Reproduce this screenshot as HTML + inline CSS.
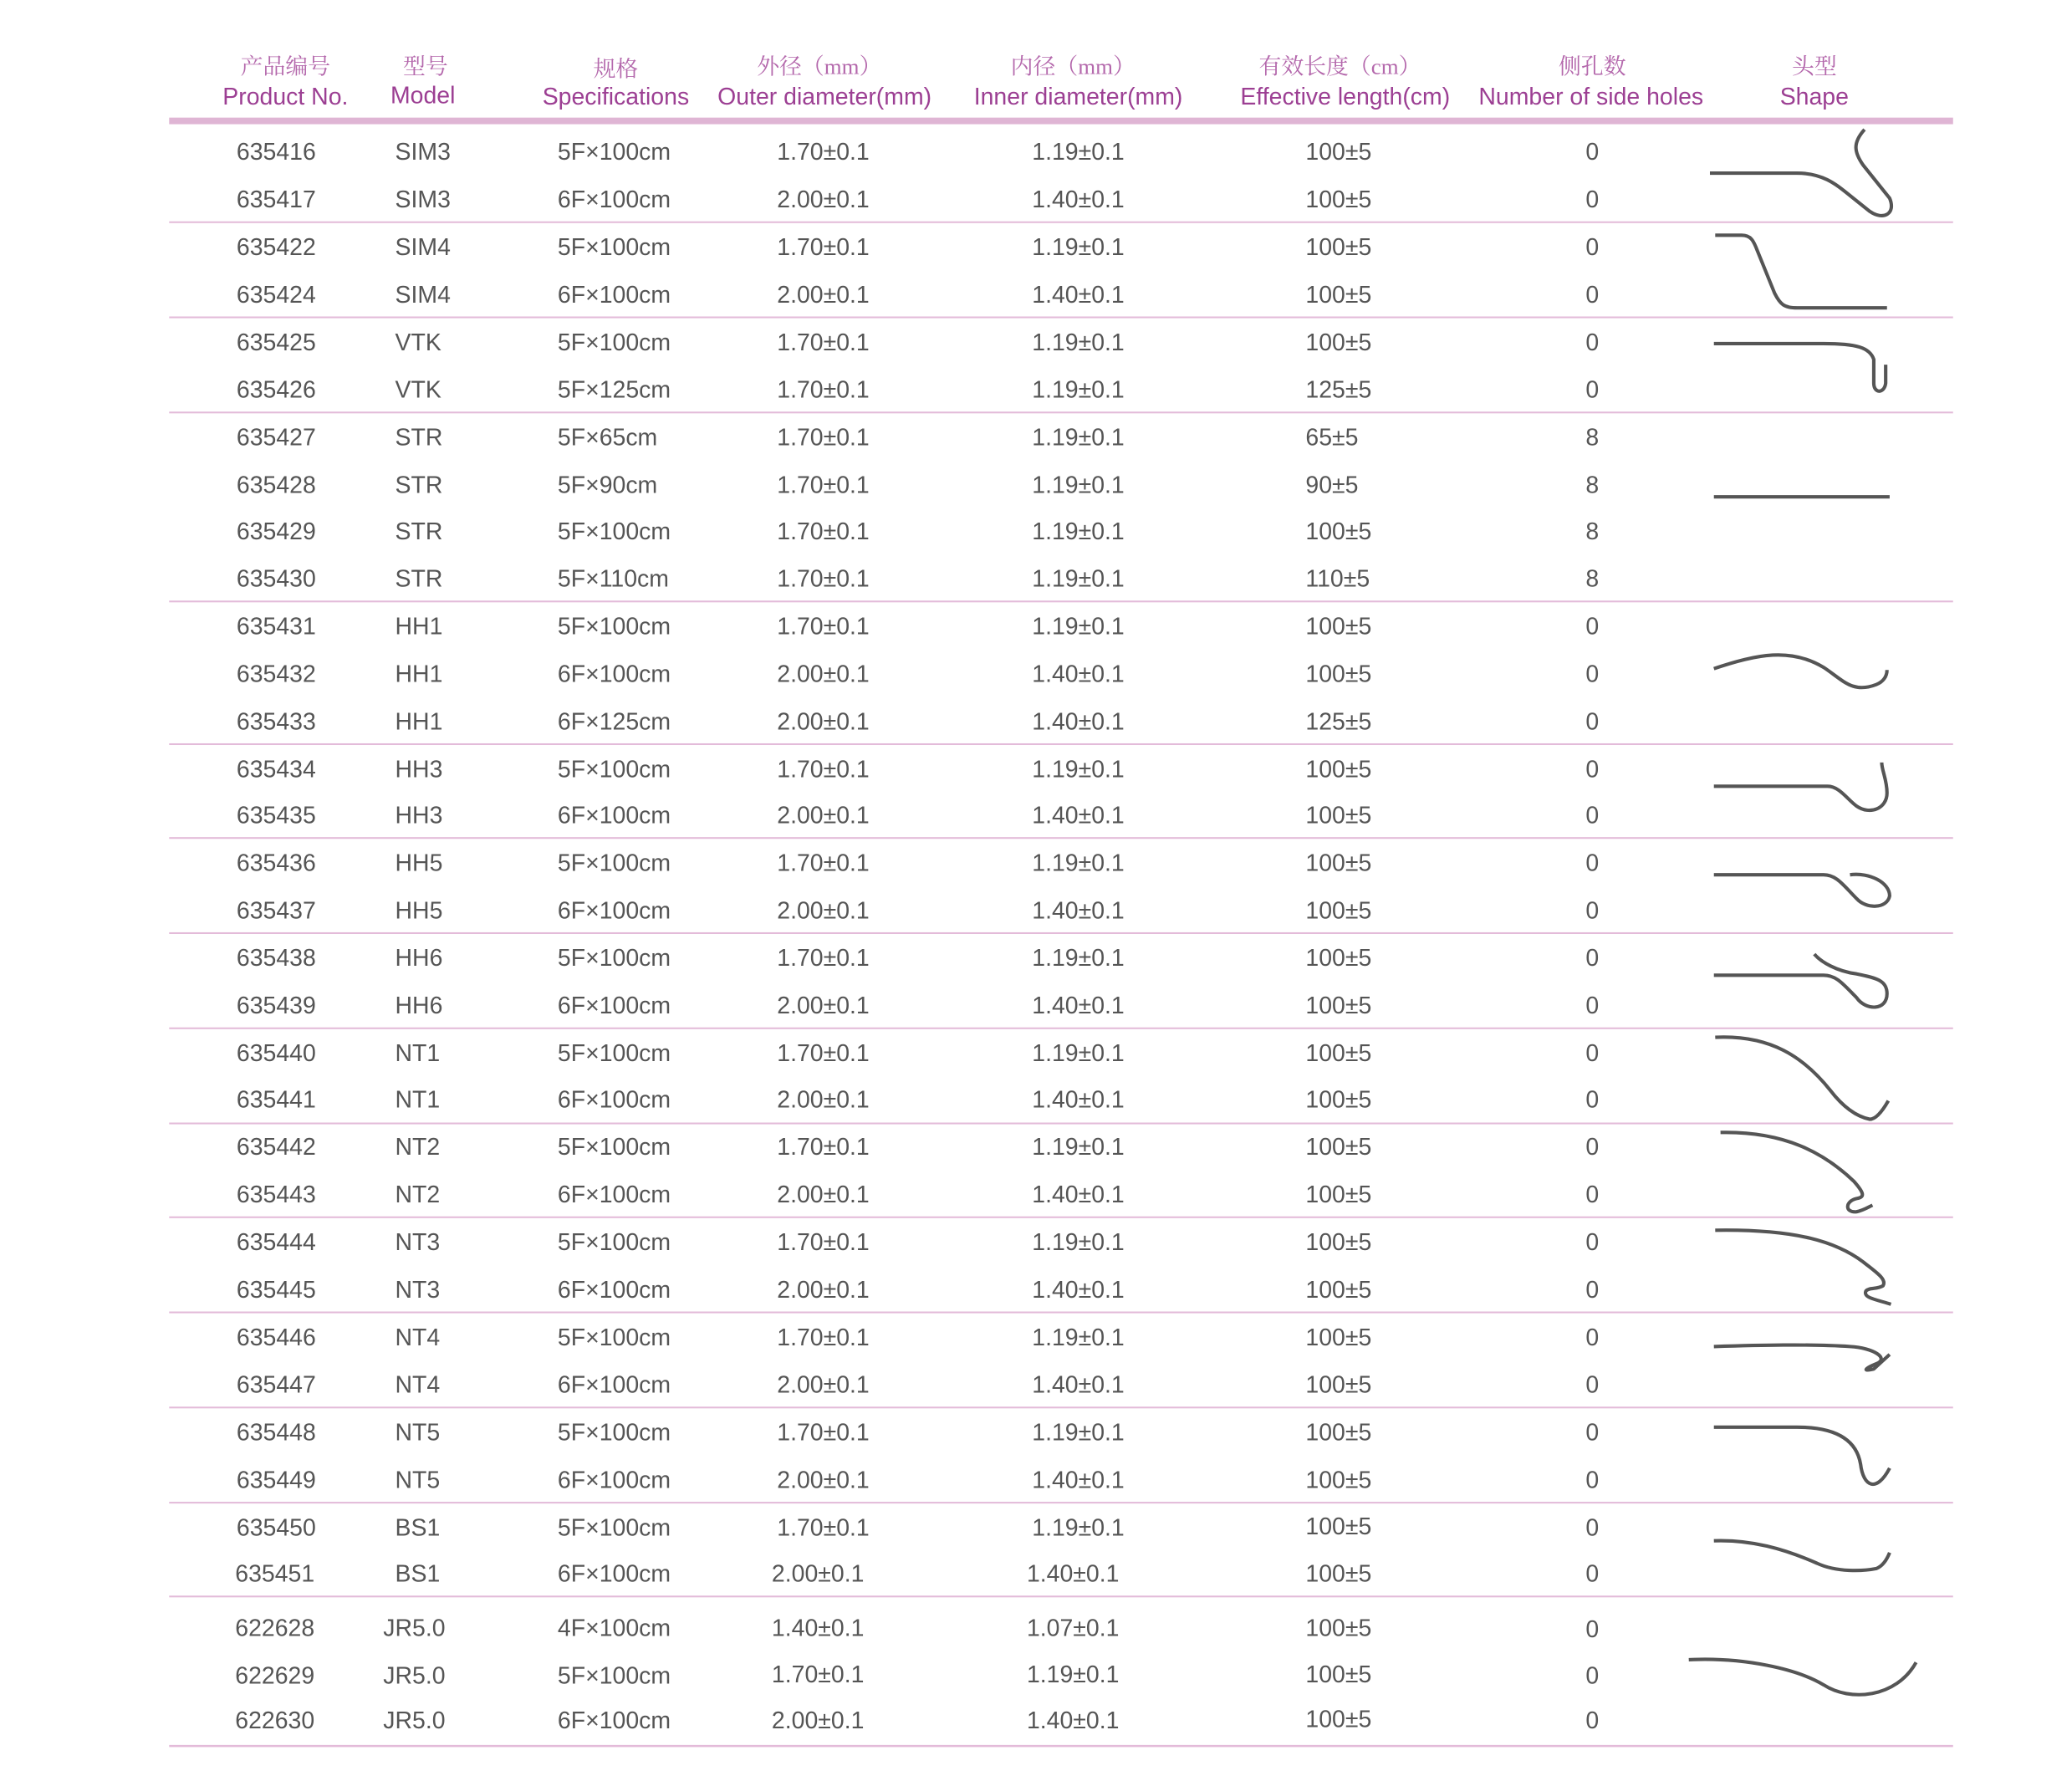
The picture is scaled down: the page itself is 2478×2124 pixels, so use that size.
<!DOCTYPE html>
<html><head><meta charset="utf-8"><style>
html,body{margin:0;padding:0;background:#fff;}
svg{display:block;}
.h1{font-family:"Liberation Serif","Noto Serif CJK SC",serif;font-size:17px;fill:#b468ac;text-anchor:middle;}
.h2{font-family:"Liberation Sans",sans-serif;font-size:18px;fill:#9c3f93;text-anchor:middle;}
.d{font-family:"Liberation Sans",sans-serif;font-size:18px;fill:#555;}
.c{text-anchor:middle;}
.sh{fill:none;stroke:#555;stroke-width:2.6;stroke-linecap:butt;stroke-linejoin:round;}
</style></head><body>
<svg width="2478" height="2124" viewBox="0 0 1568 1344" preserveAspectRatio="none" xmlns="http://www.w3.org/2000/svg">
<rect width="1568" height="1344" fill="#fff"/>
<g>
<text class="h1" x="216" y="56">产品编号</text>
<text class="h1" x="322" y="56">型号</text>
<text class="h1" x="466" y="58">规格</text>
<text class="h1" x="620" y="56">外径（mm）</text>
<text class="h1" x="812" y="56">内径（mm）</text>
<text class="h1" x="1014" y="56">有效长度（cm）</text>
<text class="h1" x="1205" y="56">侧孔数</text>
<text class="h1" x="1373" y="56">头型</text>
<text class="h2" x="216" y="79">Product No.</text>
<text class="h2" x="320" y="78">Model</text>
<text class="h2" x="466" y="79">Specifications</text>
<text class="h2" x="624" y="79">Outer diameter(mm)</text>
<text class="h2" x="816" y="79">Inner diameter(mm)</text>
<text class="h2" x="1018" y="79">Effective length(cm)</text>
<text class="h2" x="1204" y="79">Number of side holes</text>
<text class="h2" x="1373" y="79">Shape</text>
</g>
<rect x="128" y="89" width="1350" height="5" fill="#dfb5d4"/>
<g fill="#e3bbd9">
<rect x="128" y="167.5" width="1350" height="1.3"/>
<rect x="128" y="239.5" width="1350" height="1.3"/>
<rect x="128" y="311.5" width="1350" height="1.3"/>
<rect x="128" y="454.5" width="1350" height="1.3"/>
<rect x="128" y="562.5" width="1350" height="1.3"/>
<rect x="128" y="633.5" width="1350" height="1.3"/>
<rect x="128" y="705.5" width="1350" height="1.3"/>
<rect x="128" y="777.5" width="1350" height="1.3"/>
<rect x="128" y="849.5" width="1350" height="1.3"/>
<rect x="128" y="920.5" width="1350" height="1.3"/>
<rect x="128" y="992.5" width="1350" height="1.3"/>
<rect x="128" y="1064.5" width="1350" height="1.3"/>
<rect x="128" y="1136.5" width="1350" height="1.3"/>
<rect x="128" y="1207.5" width="1350" height="1.3"/>
<rect x="128" y="1320.5" width="1350" height="1.6"/>
</g>
<g class="d">
<text x="179" y="121">635416</text><text x="299" y="121">SIM3</text><text x="422" y="121">5F×100cm</text><text x="588" y="121">1.70±0.1</text><text x="781" y="121">1.19±0.1</text><text x="988" y="121">100±5</text><text class="c" x="1205" y="121">0</text>
<text x="179" y="157">635417</text><text x="299" y="157">SIM3</text><text x="422" y="157">6F×100cm</text><text x="588" y="157">2.00±0.1</text><text x="781" y="157">1.40±0.1</text><text x="988" y="157">100±5</text><text class="c" x="1205" y="157">0</text>
<text x="179" y="193">635422</text><text x="299" y="193">SIM4</text><text x="422" y="193">5F×100cm</text><text x="588" y="193">1.70±0.1</text><text x="781" y="193">1.19±0.1</text><text x="988" y="193">100±5</text><text class="c" x="1205" y="193">0</text>
<text x="179" y="229">635424</text><text x="299" y="229">SIM4</text><text x="422" y="229">6F×100cm</text><text x="588" y="229">2.00±0.1</text><text x="781" y="229">1.40±0.1</text><text x="988" y="229">100±5</text><text class="c" x="1205" y="229">0</text>
<text x="179" y="265">635425</text><text x="299" y="265">VTK</text><text x="422" y="265">5F×100cm</text><text x="588" y="265">1.70±0.1</text><text x="781" y="265">1.19±0.1</text><text x="988" y="265">100±5</text><text class="c" x="1205" y="265">0</text>
<text x="179" y="301">635426</text><text x="299" y="301">VTK</text><text x="422" y="301">5F×125cm</text><text x="588" y="301">1.70±0.1</text><text x="781" y="301">1.19±0.1</text><text x="988" y="301">125±5</text><text class="c" x="1205" y="301">0</text>
<text x="179" y="337">635427</text><text x="299" y="337">STR</text><text x="422" y="337">5F×65cm</text><text x="588" y="337">1.70±0.1</text><text x="781" y="337">1.19±0.1</text><text x="988" y="337">65±5</text><text class="c" x="1205" y="337">8</text>
<text x="179" y="373">635428</text><text x="299" y="373">STR</text><text x="422" y="373">5F×90cm</text><text x="588" y="373">1.70±0.1</text><text x="781" y="373">1.19±0.1</text><text x="988" y="373">90±5</text><text class="c" x="1205" y="373">8</text>
<text x="179" y="408">635429</text><text x="299" y="408">STR</text><text x="422" y="408">5F×100cm</text><text x="588" y="408">1.70±0.1</text><text x="781" y="408">1.19±0.1</text><text x="988" y="408">100±5</text><text class="c" x="1205" y="408">8</text>
<text x="179" y="444">635430</text><text x="299" y="444">STR</text><text x="422" y="444">5F×110cm</text><text x="588" y="444">1.70±0.1</text><text x="781" y="444">1.19±0.1</text><text x="988" y="444">110±5</text><text class="c" x="1205" y="444">8</text>
<text x="179" y="480">635431</text><text x="299" y="480">HH1</text><text x="422" y="480">5F×100cm</text><text x="588" y="480">1.70±0.1</text><text x="781" y="480">1.19±0.1</text><text x="988" y="480">100±5</text><text class="c" x="1205" y="480">0</text>
<text x="179" y="516">635432</text><text x="299" y="516">HH1</text><text x="422" y="516">6F×100cm</text><text x="588" y="516">2.00±0.1</text><text x="781" y="516">1.40±0.1</text><text x="988" y="516">100±5</text><text class="c" x="1205" y="516">0</text>
<text x="179" y="552">635433</text><text x="299" y="552">HH1</text><text x="422" y="552">6F×125cm</text><text x="588" y="552">2.00±0.1</text><text x="781" y="552">1.40±0.1</text><text x="988" y="552">125±5</text><text class="c" x="1205" y="552">0</text>
<text x="179" y="588">635434</text><text x="299" y="588">HH3</text><text x="422" y="588">5F×100cm</text><text x="588" y="588">1.70±0.1</text><text x="781" y="588">1.19±0.1</text><text x="988" y="588">100±5</text><text class="c" x="1205" y="588">0</text>
<text x="179" y="623">635435</text><text x="299" y="623">HH3</text><text x="422" y="623">6F×100cm</text><text x="588" y="623">2.00±0.1</text><text x="781" y="623">1.40±0.1</text><text x="988" y="623">100±5</text><text class="c" x="1205" y="623">0</text>
<text x="179" y="659">635436</text><text x="299" y="659">HH5</text><text x="422" y="659">5F×100cm</text><text x="588" y="659">1.70±0.1</text><text x="781" y="659">1.19±0.1</text><text x="988" y="659">100±5</text><text class="c" x="1205" y="659">0</text>
<text x="179" y="695">635437</text><text x="299" y="695">HH5</text><text x="422" y="695">6F×100cm</text><text x="588" y="695">2.00±0.1</text><text x="781" y="695">1.40±0.1</text><text x="988" y="695">100±5</text><text class="c" x="1205" y="695">0</text>
<text x="179" y="731">635438</text><text x="299" y="731">HH6</text><text x="422" y="731">5F×100cm</text><text x="588" y="731">1.70±0.1</text><text x="781" y="731">1.19±0.1</text><text x="988" y="731">100±5</text><text class="c" x="1205" y="731">0</text>
<text x="179" y="767">635439</text><text x="299" y="767">HH6</text><text x="422" y="767">6F×100cm</text><text x="588" y="767">2.00±0.1</text><text x="781" y="767">1.40±0.1</text><text x="988" y="767">100±5</text><text class="c" x="1205" y="767">0</text>
<text x="179" y="803">635440</text><text x="299" y="803">NT1</text><text x="422" y="803">5F×100cm</text><text x="588" y="803">1.70±0.1</text><text x="781" y="803">1.19±0.1</text><text x="988" y="803">100±5</text><text class="c" x="1205" y="803">0</text>
<text x="179" y="838">635441</text><text x="299" y="838">NT1</text><text x="422" y="838">6F×100cm</text><text x="588" y="838">2.00±0.1</text><text x="781" y="838">1.40±0.1</text><text x="988" y="838">100±5</text><text class="c" x="1205" y="838">0</text>
<text x="179" y="874">635442</text><text x="299" y="874">NT2</text><text x="422" y="874">5F×100cm</text><text x="588" y="874">1.70±0.1</text><text x="781" y="874">1.19±0.1</text><text x="988" y="874">100±5</text><text class="c" x="1205" y="874">0</text>
<text x="179" y="910">635443</text><text x="299" y="910">NT2</text><text x="422" y="910">6F×100cm</text><text x="588" y="910">2.00±0.1</text><text x="781" y="910">1.40±0.1</text><text x="988" y="910">100±5</text><text class="c" x="1205" y="910">0</text>
<text x="179" y="946">635444</text><text x="299" y="946">NT3</text><text x="422" y="946">5F×100cm</text><text x="588" y="946">1.70±0.1</text><text x="781" y="946">1.19±0.1</text><text x="988" y="946">100±5</text><text class="c" x="1205" y="946">0</text>
<text x="179" y="982">635445</text><text x="299" y="982">NT3</text><text x="422" y="982">6F×100cm</text><text x="588" y="982">2.00±0.1</text><text x="781" y="982">1.40±0.1</text><text x="988" y="982">100±5</text><text class="c" x="1205" y="982">0</text>
<text x="179" y="1018">635446</text><text x="299" y="1018">NT4</text><text x="422" y="1018">5F×100cm</text><text x="588" y="1018">1.70±0.1</text><text x="781" y="1018">1.19±0.1</text><text x="988" y="1018">100±5</text><text class="c" x="1205" y="1018">0</text>
<text x="179" y="1054">635447</text><text x="299" y="1054">NT4</text><text x="422" y="1054">6F×100cm</text><text x="588" y="1054">2.00±0.1</text><text x="781" y="1054">1.40±0.1</text><text x="988" y="1054">100±5</text><text class="c" x="1205" y="1054">0</text>
<text x="179" y="1090">635448</text><text x="299" y="1090">NT5</text><text x="422" y="1090">5F×100cm</text><text x="588" y="1090">1.70±0.1</text><text x="781" y="1090">1.19±0.1</text><text x="988" y="1090">100±5</text><text class="c" x="1205" y="1090">0</text>
<text x="179" y="1126">635449</text><text x="299" y="1126">NT5</text><text x="422" y="1126">6F×100cm</text><text x="588" y="1126">2.00±0.1</text><text x="781" y="1126">1.40±0.1</text><text x="988" y="1126">100±5</text><text class="c" x="1205" y="1126">0</text>
<text x="179" y="1162">635450</text><text x="299" y="1162">BS1</text><text x="422" y="1162">5F×100cm</text><text x="588" y="1162">1.70±0.1</text><text x="781" y="1162">1.19±0.1</text><text x="988" y="1161">100±5</text><text class="c" x="1205" y="1162">0</text>
<text x="178" y="1197">635451</text><text x="299" y="1197">BS1</text><text x="422" y="1197">6F×100cm</text><text x="584" y="1197">2.00±0.1</text><text x="777" y="1197">1.40±0.1</text><text x="988" y="1197">100±5</text><text class="c" x="1205" y="1197">0</text>
<text x="178" y="1238">622628</text><text x="290" y="1238">JR5.0</text><text x="422" y="1238">4F×100cm</text><text x="584" y="1238">1.40±0.1</text><text x="777" y="1238">1.07±0.1</text><text x="988" y="1238">100±5</text><text class="c" x="1205" y="1239">0</text>
<text x="178" y="1274">622629</text><text x="290" y="1274">JR5.0</text><text x="422" y="1274">5F×100cm</text><text x="584" y="1273">1.70±0.1</text><text x="777" y="1273">1.19±0.1</text><text x="988" y="1273">100±5</text><text class="c" x="1205" y="1274">0</text>
<text x="178" y="1308">622630</text><text x="290" y="1308">JR5.0</text><text x="422" y="1308">6F×100cm</text><text x="584" y="1308">2.00±0.1</text><text x="777" y="1308">1.40±0.1</text><text x="988" y="1307">100±5</text><text class="c" x="1205" y="1308">0</text>
</g>
<g class="sh">
<path d="M1294 131 L1360 131 C1380 131 1390 140 1400 148 L1415 160 C1425 167 1435 162 1430 150 L1410 125 C1403 115 1402 108 1411 98"/>
<path d="M1298 178 L1318 178 C1325 178 1327 182 1330 190 L1343 222 C1347 230 1350 233 1360 233 L1428 233"/>
<path d="M1297 260 L1380 260 C1405 260 1415 263 1418 272 L1418 290 C1418 298 1426 298 1427 290 L1427 276"/>
<path d="M1297 376 L1430 376"/>
<path d="M1297 506 C1330 495 1355 490 1380 505 C1395 515 1402 525 1420 518 C1425 516 1428 512 1428 507"/>
<path d="M1297 595 L1383 595 C1392 595 1398 605 1405 610 C1415 617 1428 612 1428 600 C1428 590 1424 583 1424 577"/>
<path d="M1297 662 L1380 662 C1390 662 1395 670 1405 680 C1412 688 1428 688 1430 678 C1430 668 1415 660 1400 662"/>
<path d="M1297 738 L1380 738 C1390 738 1395 745 1405 755 C1412 765 1428 765 1428 752 C1428 742 1420 740 1405 737 C1390 735 1378 728 1373 722"/>
<path d="M1298 785 C1340 783 1365 800 1385 825 C1395 838 1405 845 1415 847 C1420 847 1425 840 1429 833"/>
<path d="M1302 857 C1350 856 1380 872 1403 894 C1410 902 1412 906 1405 907 C1396 909 1396 918 1405 917 C1410 916 1413 914 1417 912"/>
<path d="M1298 931 C1360 930 1390 940 1410 955 C1420 963 1428 968 1425 973 C1420 976 1415 974 1412 977 C1410 982 1418 983 1431 987"/>
<path d="M1297 1019 C1330 1018 1370 1017 1400 1019 C1418 1020 1430 1028 1420 1032 C1410 1036 1410 1038 1418 1036 L1430 1025"/>
<path d="M1297 1080 L1360 1080 C1390 1080 1405 1090 1408 1108 C1410 1125 1420 1130 1430 1111"/>
<path d="M1297 1166 C1325 1165 1350 1172 1375 1183 C1390 1190 1410 1189 1420 1187 C1425 1185 1428 1180 1430 1175"/>
<path d="M1278 1256 C1320 1254 1360 1263 1380 1275 C1400 1288 1435 1285 1450 1258"/>
</g>
</svg>
</body></html>
